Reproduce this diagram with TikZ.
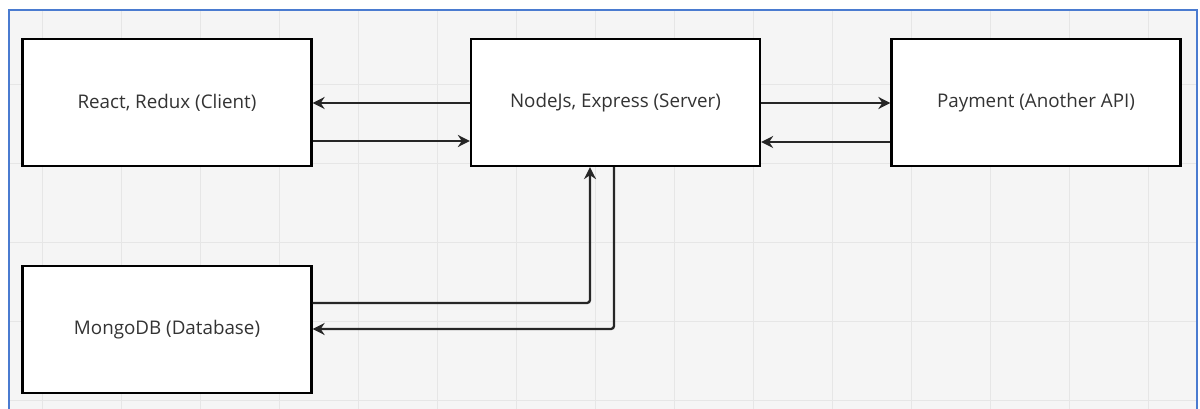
\documentclass[tikz,border=0pt]{standalone}
\usepackage{fontspec}
\setmainfont{Open Sans}
\usetikzlibrary{arrows.meta}
\definecolor{bgc}{HTML}{F5F5F5}
\definecolor{gridc}{HTML}{E6E6E6}
\definecolor{framec}{HTML}{4A7BD0}
\definecolor{linec}{HTML}{262626}
\tikzset{
  box/.style={draw=black, line width=2.2pt, fill=white, minimum width=289pt, minimum height=127pt, inner sep=0pt, font=\fontsize{18.8}{22}\selectfont, text=black!80},
  conn/.style={draw=linec, line width=2.3pt, -{Stealth[length=12pt,width=12pt]}, rounded corners=3pt},
}
\begin{document}
\begin{tikzpicture}[x=1pt,y=-1pt]
\useasboundingbox (0,0) rectangle (1200,409);
\fill[white] (0,0) rectangle (1200,409);
\fill[bgc] (9,10) rectangle (1197,409);
\begin{scope}
\clip (9,10) rectangle (1197,409);
\foreach \i in {0,...,15} \draw[gridc, line width=0.8pt] (42+79*\i,10) -- (42+79*\i,409);
\foreach \j in {0,...,5} \draw[gridc, line width=0.8pt] (9,5+79*\j) -- (1197,5+79*\j);
\end{scope}
\draw[framec, line width=2pt] (9,409) -- (9,10) -- (1197,10) -- (1197,409);
\node[box] (react) at (167,102.5) {React, Redux (Client)};
\node[box] (node) at (615.5,102.5) {NodeJs, Express (Server)};
\node[box] (pay) at (1036,102.5) {Payment (Another API)};
\node[box] (mongo) at (167,329.5) {MongoDB (Database)};
\draw[conn] (node.west |- 0,103) -- (react.east |- 0,103);
\draw[conn] (react.east |- 0,141) -- (node.west |- 0,141);
\draw[conn] (node.east |- 0,103) -- (pay.west |- 0,103);
\draw[conn] (pay.west |- 0,142) -- (node.east |- 0,142);
\draw[conn] (mongo.east |- 0,303) -- (590,303) -- (node.south -| 590,0);
\draw[conn] (node.south -| 614,0) -- (614,329) -- (mongo.east |- 0,329);
\end{tikzpicture}
\end{document}
